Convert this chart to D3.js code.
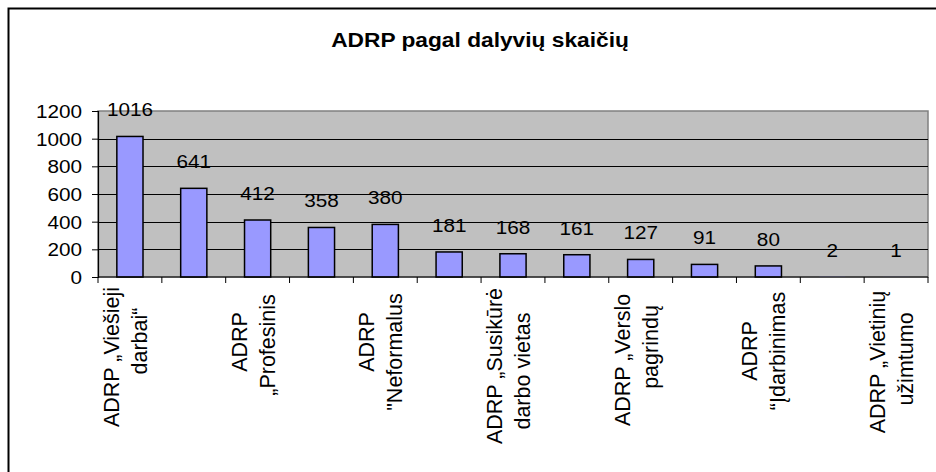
<!DOCTYPE html>
<html>
<head>
<meta charset="utf-8">
<script src="https://cdn.jsdelivr.net/npm/d3@7"></script>
<style>
  html, body { margin: 0; padding: 0; background: #fff; }
  svg { display: block; font-family: "Liberation Sans", Arial, sans-serif; }
</style>
</head>
<body>
<script>
// chart data
const title = 'ADRP pagal dalyvių skaičių';
const categories = [
    'ADRP „Viešieji\ndarbai“', '', 'ADRP\n„Profesinis', '', 'ADRP\n"Neformalus',
    '', 'ADRP „Susikūrė\ndarbo vietas', '', 'ADRP „Verslo\npagrindų', '',
    'ADRP\n“Įdarbinimas', '', 'ADRP „Vietinių\nužimtumo'
];
const values = [1016, 641, 412, 358, 380, 181, 168, 161, 127, 91, 80, 2, 1];
const yTicks = [0, 200, 400, 600, 800, 1000, 1200];

// layout
const W = 936, H = 472;
const plot = { left: 98, right: 928, top: 111, bottom: 277 };
// centre (y) of each rotated label line, as placed in the source picture
const labelCentres = { 0: [357, 341], 2: [342, 345], 4: [342, 352], 6: [366, 371],
                       8: [360, 347], 10: [351, 351], 12: [362, 359] };
const stretch = 1.12;

const svg = d3.select('body').append('svg')
    .attr('width', W)
    .attr('height', H);

// outer frame (cut off at right and bottom like the source)
svg.append('rect')
    .attr('x', 8.5).attr('y', 8.5)
    .attr('width', 1000).attr('height', 1000)
    .attr('fill', 'none')
    .attr('stroke', '#000')
    .attr('stroke-width', 2);

// title
svg.append('g')
    .attr('transform', `translate(480,47) scale(${stretch},1)`)
    .append('text')
    .attr('text-anchor', 'middle')
    .style('font-size', '20.3px')
    .style('font-weight', 'bold')
    .text(title);

const idx = d3.range(values.length);
const x = d3.scaleBand()
    .domain(idx)
    .range([plot.left, plot.right])
    .paddingInner(0.59)
    .paddingOuter(0.295);

const y = d3.scaleLinear()
    .domain([0, 1200])
    .range([plot.bottom, plot.top]);

// plot area
svg.append('rect')
    .attr('x', plot.left).attr('y', plot.top)
    .attr('width', plot.right - plot.left)
    .attr('height', plot.bottom - plot.top)
    .attr('fill', '#c0c0c0')
    .attr('stroke', '#808080')
    .attr('stroke-width', 1.5);

// gridlines
svg.append('g')
    .selectAll('line')
    .data(yTicks.filter(d => d > 0 && d < 1200))
    .join('line')
    .attr('x1', plot.left).attr('x2', plot.right)
    .attr('y1', d => Math.round(y(d)) + 0.5)
    .attr('y2', d => Math.round(y(d)) + 0.5)
    .attr('stroke', '#000')
    .attr('stroke-width', 1);

// y axis
const yAxis = svg.append('g')
    .attr('transform', `translate(${plot.left},0)`)
    .call(d3.axisLeft(y).tickValues(yTicks).tickSize(6).tickFormat(''));
yAxis.select('.domain').attr('stroke', '#000').attr('stroke-width', 1.2);
yAxis.selectAll('.tick line').attr('stroke', '#000');

svg.append('g')
    .selectAll('g')
    .data(yTicks)
    .join('g')
    .attr('transform', d => `translate(82,${y(d) + 7}) scale(${stretch},1)`)
    .append('text')
    .attr('text-anchor', 'end')
    .style('font-size', '18.5px')
    .text(d => d);

// bars (very small ones vanish into the axis, as in the source)
svg.append('g')
    .selectAll('rect')
    .data(values)
    .join('rect')
    .attr('x', (d, i) => x(i))
    .attr('y', d => y(d))
    .attr('width', x.bandwidth())
    .attr('height', d => y(0) - y(d))
    .attr('fill', '#9999ff')
    .attr('stroke', d => (y(0) - y(d)) < 2 ? 'none' : '#000')
    .attr('stroke-width', 1.5);

// data labels
svg.append('g')
    .selectAll('g')
    .data(values)
    .join('g')
    .attr('transform', (d, i) => `translate(${x(i) + x.bandwidth() / 2},${y(d) - 20}) scale(${stretch},1)`)
    .append('text')
    .attr('text-anchor', 'middle')
    .style('font-size', '18.5px')
    .text(d => d);

// x axis with ticks between categories
const step = x.step();
const xTickPos = d3.range(values.length + 1).map(i => plot.left + i * step);
svg.append('line')
    .attr('x1', plot.left).attr('x2', plot.right)
    .attr('y1', plot.bottom).attr('y2', plot.bottom)
    .attr('stroke', '#000').attr('stroke-width', 1.2);
svg.append('g')
    .selectAll('line')
    .data(xTickPos)
    .join('line')
    .attr('x1', d => d).attr('x2', d => d)
    .attr('y1', plot.bottom).attr('y2', plot.bottom + 6)
    .attr('stroke', '#000');

// category labels (rotated, every second one shown)
categories.forEach((c, i) => {
    if (!c) return;
    const cx = x(i) + x.bandwidth() / 2;
    const lines = c.split('\n');
    const offs = [-11, 17];
    lines.forEach((ln, j) => {
        const cy = labelCentres[i][j];
        svg.append('text')
            .attr('transform', `translate(${cx + offs[j]},${cy}) rotate(-90)`)
            .attr('text-anchor', 'middle')
            .style('font-size', '21.5px')
            .text(ln);
    });
});
</script>
</body>
</html>
